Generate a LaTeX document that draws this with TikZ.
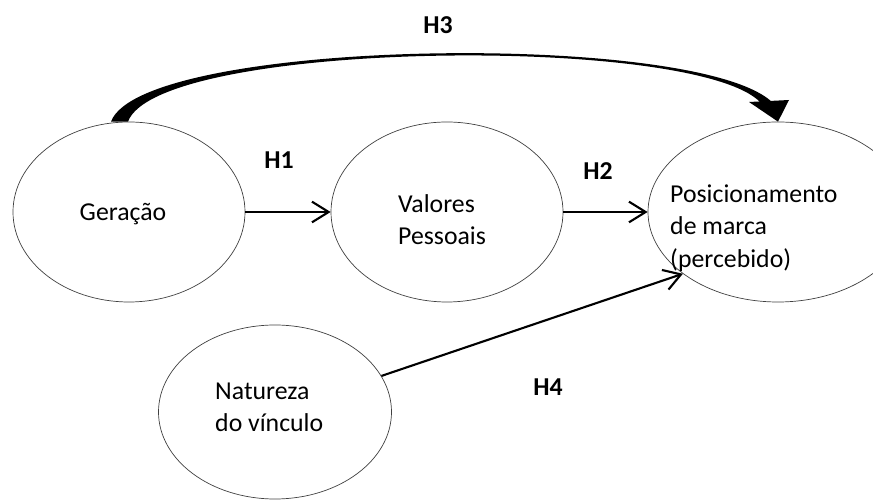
\documentclass[tikz,border=0pt]{standalone}
\usepackage{fontspec}
\setmainfont{Carlito}
\usetikzlibrary{arrows.meta,shapes.geometric}

\begin{document}
\begin{tikzpicture}
        [x=0.3cm,y=0.3cm,
         every node/.style={font=\fontsize{22}{27.5}\selectfont},
         var/.style={ellipse,draw=black!75,line width=0.6pt,inner sep=0pt,minimum width=6.96cm,minimum height=5.4cm},
         txt/.style={align=left,anchor=west,inner sep=0pt},
         hyp/.style={font=\fontsize{22}{27.5}\selectfont\bfseries},
         seta/.style={line width=1.8pt,-{Straight Barb[length=0.5cm,width=0.62cm]}}]
        \useasboundingbox (0,0) rectangle (87.3,50.2);
        \clip (0,0) rectangle (87.3,50.2);

        \node[var] (ger) at (12.9,29.0) {};
        \node[var] (val) at (44.7,29.0) {};
        \node[var,minimum width=7.8cm] (pos) at (77.8,29.0) {};
        \node[var,minimum width=6.99cm,minimum height=5.22cm] (nat) at (27.5,9.0) {};

        \node (gerT) at (12.3,28.8) {Geração};
        \node[txt] (valT) at (39.8,28.2) {Valores\\Pessoais};
        \node[txt] (posT) at (67.0,27.4) {Posicionamento\\de marca\\(percebido)};
        \node[txt] (natT) at (21.5,9.5) {Natureza\\do vínculo};

        \node[hyp] (h1) at (27.9,34.2) {H1};
        \node[hyp] (h2) at (59.8,33.1) {H2};
        \node[hyp] (h3) at (43.8,47.7) {H3};
        \node[hyp] (h4) at (54.8,11.5) {H4};

        \foreach \from/\to in {ger/val, val/pos, nat/pos.213}
        \draw[seta] (\from) -- (\to);

        % H3
        \fill ([xshift=-0.54cm]ger.north) .. controls (14.2,46.4) and (70.0,47.2) .. (77.3,39.9)
              -- (76.1,39.9) .. controls (69.8,46.8) and (15.8,46.2) .. ([xshift=-0.03cm]ger.north) -- cycle;
        \fill (74.9,40.0) -- (pos.north) -- (78.9,40.2) -- cycle;
      \end{tikzpicture}
\end{document}
